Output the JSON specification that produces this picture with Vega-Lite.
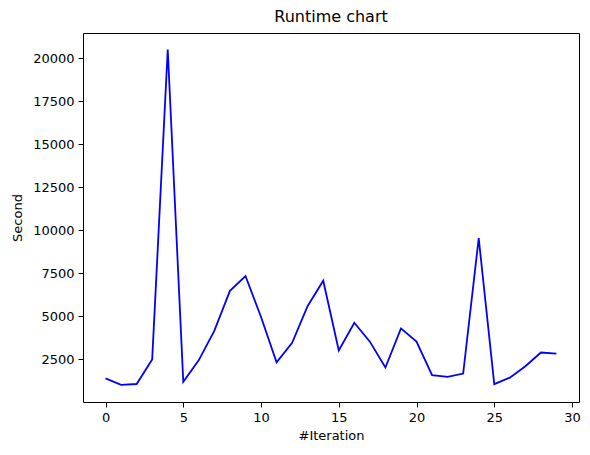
{
  "$schema": "https://vega.github.io/schema/vega-lite/v6.json",
  "width": 496,
  "height": 369,
  "autosize": {"type": "none"},
  "padding": {"left": 83, "top": 33, "right": 11, "bottom": 53},
  "background": "white",
  "title": {"text": "Runtime chart", "fontSize": 16, "font": "DejaVu Sans", "fontWeight": "normal", "color": "black", "offset": 8},
  "config": {
    "view": {"stroke": "black", "strokeWidth": 1},
    "axis": {"font": "DejaVu Sans", "labelFont": "DejaVu Sans", "titleFont": "DejaVu Sans", "labelFontSize": 13, "titleFontSize": 13, "titleFontWeight": "normal", "labelColor": "black", "titleColor": "black", "domainColor": "black", "tickColor": "black", "tickSize": 5, "labelPadding": 4, "grid": false}
  },
  "data": {"values": [
    {"iteration": 0, "second": 1400},
    {"iteration": 1, "second": 1020},
    {"iteration": 2, "second": 1070},
    {"iteration": 3, "second": 2500},
    {"iteration": 4, "second": 20500},
    {"iteration": 5, "second": 1200},
    {"iteration": 6, "second": 2460},
    {"iteration": 7, "second": 4170},
    {"iteration": 8, "second": 6480},
    {"iteration": 9, "second": 7340},
    {"iteration": 10, "second": 4960},
    {"iteration": 11, "second": 2330},
    {"iteration": 12, "second": 3460},
    {"iteration": 13, "second": 5600},
    {"iteration": 14, "second": 7070},
    {"iteration": 15, "second": 3020},
    {"iteration": 16, "second": 4630},
    {"iteration": 17, "second": 3530},
    {"iteration": 18, "second": 2030},
    {"iteration": 19, "second": 4300},
    {"iteration": 20, "second": 3530},
    {"iteration": 21, "second": 1590},
    {"iteration": 22, "second": 1490},
    {"iteration": 23, "second": 1680},
    {"iteration": 24, "second": 9540},
    {"iteration": 25, "second": 1060},
    {"iteration": 26, "second": 1440},
    {"iteration": 27, "second": 2100},
    {"iteration": 28, "second": 2900},
    {"iteration": 29, "second": 2840}
  ]},
  "mark": {"type": "line", "color": "blue", "strokeWidth": 1.8},
  "encoding": {
    "x": {"field": "iteration", "type": "quantitative", "title": "#Iteration",
      "scale": {"domain": [-1.45, 30.45], "nice": false, "zero": false},
      "axis": {"values": [0, 5, 10, 15, 20, 25, 30], "format": "d", "titlePadding": 5, "domain": false}},
    "y": {"field": "second", "type": "quantitative", "title": "Second",
      "scale": {"domain": [26, 21454], "nice": false, "zero": false},
      "axis": {"values": [2500, 5000, 7500, 10000, 12500, 15000, 17500, 20000], "format": "d", "titlePadding": 8, "domain": false}}
  }
}
